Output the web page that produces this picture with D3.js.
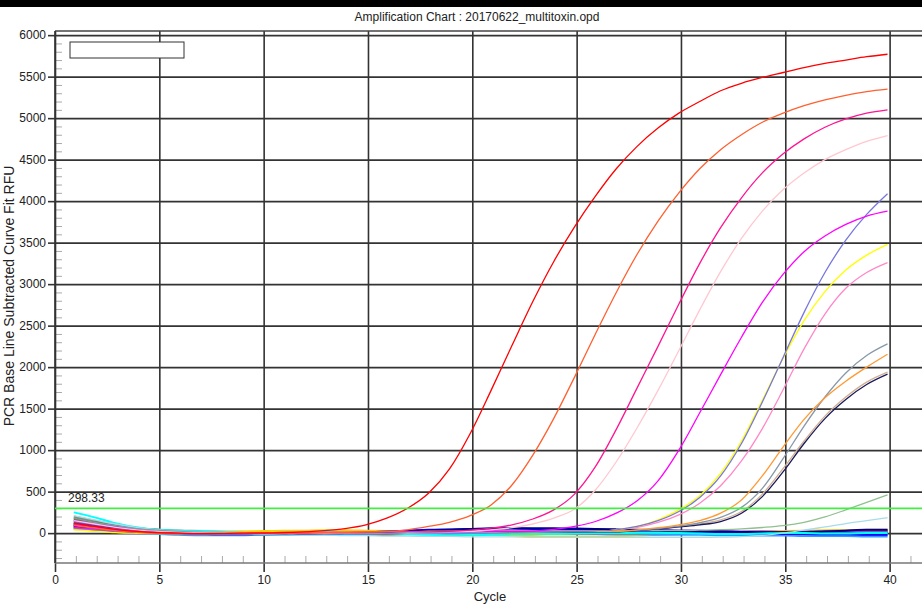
<!DOCTYPE html>
<html>
<head>
<meta charset="utf-8">
<script src="https://cdn.jsdelivr.net/npm/d3@7"></script>
<style>
  body { margin: 0; background: #fff; }
  text { font-family: "Liberation Sans", Arial, sans-serif; fill: #222; }
</style>
</head>
<body>
<div id="plot"></div>
<script>
// cycles 1..40, tick values
const cycles = d3.range(1, 41);
const xTicks = [0, 5, 10, 15, 20, 25, 30, 35, 40];
const yTicks = [0, 500, 1000, 1500, 2000, 2500, 3000, 3500, 4000, 4500, 5000, 5500, 6000];
const threshold = 298.33;

// amplifying wells
const red      = [120,80,45,20,5,0,-5,-5,0,0,5,15,30,55,100,180,300,480,770,1200,1720,2260,2790,3270,3690,4060,4390,4660,4880,5060,5200,5330,5420,5490,5550,5610,5660,5700,5740,5770];
const orangeRed= [90,60,30,10,0,-5,-5,-5,0,0,0,5,5,10,15,20,40,80,130,210,340,580,940,1380,1880,2400,2900,3360,3760,4100,4390,4620,4800,4950,5060,5150,5220,5275,5320,5350];
const deepPink = [110,75,45,25,10,0,-5,-5,-5,0,0,0,5,5,10,10,15,15,20,35,60,100,170,280,470,800,1250,1750,2250,2760,3250,3680,4040,4340,4570,4750,4890,4990,5060,5100];
const lightPink= [150,110,70,40,20,10,0,-5,-5,-5,0,0,0,5,5,10,10,15,15,20,40,65,110,180,290,520,860,1270,1720,2200,2690,3150,3550,3880,4140,4340,4500,4620,4720,4790];
const magenta  = [70,50,30,15,5,0,0,-5,-5,0,0,5,5,10,10,10,15,15,15,20,20,20,25,45,80,140,240,390,630,1000,1450,1910,2360,2780,3120,3390,3580,3720,3820,3880];
const slateBlue= [60,40,20,10,0,-5,-5,0,0,5,5,5,10,10,10,10,15,15,15,15,20,20,20,20,20,25,40,80,150,260,430,690,1080,1580,2120,2660,3140,3530,3840,4090];
const yellow   = [40,25,10,0,-5,-5,0,0,5,5,10,10,10,15,15,15,15,20,20,20,20,20,20,20,20,20,40,80,160,280,450,720,1110,1600,2110,2560,2910,3170,3350,3480];
const hotPink  = [100,70,45,25,10,0,-5,-5,0,0,0,5,5,5,10,10,10,15,15,15,15,20,20,20,20,20,40,70,130,220,360,570,870,1260,1730,2220,2640,2950,3140,3260];
const orange   = [50,35,20,10,0,-5,-5,-5,0,0,0,5,5,5,10,10,10,10,15,15,15,15,15,20,20,20,20,40,65,100,150,240,400,690,1040,1370,1630,1830,2000,2155];
const grayBlue = [180,130,90,55,35,20,10,5,0,0,0,0,5,5,5,10,10,10,10,15,15,15,15,15,20,20,20,35,55,85,125,190,310,540,900,1290,1640,1930,2140,2280];
const tan      = [60,40,20,5,0,-5,-5,-5,-5,-5,0,0,0,0,5,5,5,5,10,10,10,10,10,10,15,15,15,30,50,80,110,160,260,470,780,1110,1410,1640,1820,1940];
const navy     = [90,60,35,15,5,0,-5,-10,-10,-5,-5,0,0,5,5,5,10,10,10,10,10,10,15,15,15,15,15,30,50,75,100,140,240,440,740,1080,1380,1610,1790,1915];
const seaGreen = [100,70,45,25,10,0,-5,-5,0,0,5,5,10,10,10,15,15,20,20,20,20,25,25,25,25,25,30,30,30,30,35,42,52,68,90,130,195,280,370,460];
const paleBlue = [210,160,110,70,40,20,5,-5,-10,-15,-20,-25,-25,-30,-30,-35,-35,-40,-40,-45,-45,-45,-50,-50,-50,-50,-50,-50,-50,-50,-50,-48,-42,-28,0,35,75,115,150,185];

// flat (negative) wells
const n1  = [250,190,120,70,40,30,20,10,5,0,0,5,10,10,5,0,-10,-20,-25,-25,-20,-15,-10,-10,-5,0,0,5,5,0,-5,-10,-10,-5,0,0,-5,-5,0,0];
const n3  = [200,150,100,60,40,30,20,15,10,10,10,10,5,5,0,0,0,5,5,10,10,10,5,5,0,0,0,0,-5,-5,-5,-5,0,0,5,5,10,10,15,15];
const n4  = [180,130,90,60,40,20,10,5,0,0,0,10,15,20,20,20,15,15,10,10,10,10,15,15,20,20,20,15,15,10,10,10,10,10,10,15,15,15,20,20];
const n5  = [160,120,80,50,30,15,5,0,-5,-10,-10,-15,-15,-20,-20,-20,-15,-15,-10,-10,-5,-5,0,0,5,5,5,10,10,10,15,15,15,20,20,25,25,30,30,30];
const n6  = [150,110,80,50,30,15,5,0,0,0,5,5,10,10,15,15,20,20,20,25,25,25,30,30,30,35,35,35,30,30,30,25,20,20,15,15,10,10,10,10];
const n7  = [100,70,40,20,5,-5,-10,-15,-15,-10,-10,-5,0,5,10,20,30,40,45,50,55,55,50,45,40,35,30,25,20,15,10,5,0,-5,-10,-10,-15,-15,-20,-20];
const n8  = [80,60,40,20,10,0,-5,-10,-10,-10,-10,-10,-5,0,5,10,20,30,40,50,55,60,60,60,55,50,45,40,35,30,25,20,15,10,10,10,20,30,40,40];
const n9  = [60,40,20,0,-10,-20,-25,-25,-25,-20,-20,-15,-10,-10,-5,-5,0,0,0,0,0,0,-5,-5,-10,-10,-15,-15,-20,-20,-20,-25,-25,-30,-30,-35,-35,-35,-40,-40];
const n10 = [50,30,10,0,-5,-5,0,10,20,25,30,30,35,35,30,25,20,10,0,-10,-20,-30,-35,-40,-40,-40,-35,-30,-20,-10,0,10,15,20,25,30,35,35,40,40];
const n11 = [130,100,70,45,25,10,0,-5,-10,-10,-5,0,5,10,10,10,5,5,10,15,20,20,15,15,10,10,5,5,10,15,15,10,5,0,0,-5,-5,-5,-10,-10];
const n12 = [110,80,55,35,20,10,5,0,0,0,5,5,5,10,10,15,15,15,20,20,20,25,25,25,25,20,20,20,15,15,15,10,10,10,15,20,25,30,35,35];
const n13 = [70,45,25,10,0,-10,-15,-20,-20,-20,-15,-10,-10,-5,-5,0,0,5,5,5,5,5,0,0,0,0,-5,-5,-5,-10,-10,-15,-15,-20,-20,-25,-25,-30,-30,-30];
const n14 = [140,110,80,60,45,35,30,25,20,15,10,10,5,5,0,0,-5,-5,-5,-10,-10,-10,-10,-5,-5,-5,0,0,0,5,5,5,5,0,0,-5,-5,-10,-10,-10];
const n15 = [90,60,35,20,10,5,0,0,5,10,10,15,15,20,20,15,15,10,10,5,5,5,5,10,10,15,15,20,20,15,10,5,5,0,0,0,5,5,5,5];
const n16 = [120,90,60,35,20,10,0,-5,-5,-5,0,0,5,5,10,10,15,15,10,10,5,5,10,15,20,25,30,30,30,25,25,20,15,10,5,0,0,0,0,0];

const flatSeries = [
  {v: n14, c: "#c8c8c8"}, {v: n3, c: "#909090"}, {v: n4, c: "#339933"}, {v: n15, c: "#8fa060"},
  {v: n5, c: "#996633"}, {v: n10, c: "#ffcc00"}, {v: n12, c: "#607080"}, {v: n11, c: "#00cccc"},
  {v: n6, c: "#9933ff"}, {v: n16, c: "#6633cc"}, {v: n13, c: "#6495ed"}, {v: n9, c: "#3399ff"},
  {v: n7, c: "#0000ff"}, {v: n8, c: "#000080"}, {v: n1, c: "#00ffff"}
];
const ampSeries = [
  {v: paleBlue, c: "#a8dce8"}, {v: seaGreen, c: "#90c090"},
  {v: tan, c: "#d0b090"}, {v: navy, c: "#1a1a5e"}, {v: grayBlue, c: "#8898a8"}, {v: orange, c: "#ff9933"},
  {v: hotPink, c: "#ff88c8"}, {v: yellow, c: "#ffff00"}, {v: slateBlue, c: "#7777dd"},
  {v: magenta, c: "#ff00ff"}, {v: lightPink, c: "#ffc8d0"}, {v: deepPink, c: "#ff1493"},
  {v: orangeRed, c: "#ff6030"}, {v: red, c: "#ff0000"}
];

const W = 922, H = 605;
const svg = d3.select("#plot").append("svg").attr("width", W).attr("height", H);

const x = d3.scaleLinear().domain([0, 41.6]).range([55, 923]);
const y = d3.scaleLinear().domain([-360, 6050]).range([563, 31]);
const plotTop = y(6050), plotBottom = y(-360), plotLeft = x(0), plotRight = W;

// header bar and title
svg.append("rect").attr("x", 0).attr("y", 0).attr("width", W).attr("height", 7).attr("fill", "#000");
svg.append("text").attr("x", 477).attr("y", 21).attr("text-anchor", "middle")
   .attr("font-size", "12px").text("Amplification Chart : 20170622_multitoxin.opd");

// minor ticks
svg.append("g").attr("transform", `translate(${plotLeft},0)`)
   .call(d3.axisRight(y).tickValues(d3.range(-300, 6001, 100).filter(d => d % 500 !== 0)).tickSize(7).tickFormat(""))
   .call(g => g.select(".domain").remove())
   .selectAll("line").attr("stroke", "#aaa");
svg.append("g").attr("transform", `translate(0,${plotBottom})`)
   .call(d3.axisTop(x).tickValues(d3.range(1, 42).filter(d => d % 5 !== 0)).tickSize(7).tickFormat(""))
   .call(g => g.select(".domain").remove())
   .selectAll("line").attr("stroke", "#aaa");

// grid + major axes
svg.append("g").attr("transform", `translate(${plotLeft},0)`)
   .call(d3.axisLeft(y).tickValues(yTicks).tickSize(7).tickPadding(2).tickFormat(d3.format("d")))
   .call(g => g.select(".domain").remove())
   .call(g => g.selectAll("text").attr("font-size", "12px").attr("fill", "#222")
      .style("font-family", "'Liberation Sans', Arial, sans-serif"))
   .call(g => g.selectAll(".tick line").clone().attr("x1", 0).attr("x2", plotRight - plotLeft))
   .selectAll("line").attr("stroke", "#333").attr("stroke-width", 1.6);

svg.append("g").attr("transform", `translate(0,${plotBottom})`)
   .call(d3.axisBottom(x).tickValues(xTicks).tickSize(9).tickPadding(3))
   .call(g => g.select(".domain").remove())
   .call(g => g.selectAll("text").attr("font-size", "12px").attr("fill", "#222")
      .style("font-family", "'Liberation Sans', Arial, sans-serif"))
   .call(g => g.selectAll(".tick line").clone().attr("y1", 0).attr("y2", plotTop - plotBottom))
   .selectAll("line").attr("stroke", "#333").attr("stroke-width", 1.6);

// plot border
svg.append("line").attr("x1", plotLeft).attr("x2", plotRight).attr("y1", plotTop).attr("y2", plotTop)
   .attr("stroke", "#444").attr("stroke-width", 1.4);
svg.append("line").attr("x1", plotLeft).attr("x2", plotRight).attr("y1", plotBottom).attr("y2", plotBottom)
   .attr("stroke", "#777").attr("stroke-width", 1.4);
svg.append("line").attr("x1", plotLeft).attr("x2", plotLeft).attr("y1", plotTop).attr("y2", plotBottom)
   .attr("stroke", "#333").attr("stroke-width", 1.6);

// curves
const line = d3.line().x((d, i) => x(cycles[i] - 0.1)).y(d => y(d)).curve(d3.curveMonotoneX);
svg.append("g").selectAll("path.flat").data(flatSeries).enter().append("path")
   .attr("d", d => line(d.v)).attr("fill", "none").attr("stroke", d => d.c).attr("stroke-width", 2);
svg.append("g").selectAll("path.amp").data(ampSeries).enter().append("path")
   .attr("d", d => line(d.v)).attr("fill", "none").attr("stroke", d => d.c).attr("stroke-width", 1.3);

// threshold
svg.append("line").attr("x1", plotLeft).attr("x2", plotRight).attr("y1", y(threshold)).attr("y2", y(threshold))
   .attr("stroke", "#40f040").attr("stroke-width", 1.6);
svg.append("text").attr("x", 68).attr("y", y(threshold) - 6).attr("font-size", "12px").text("298.33");

// empty legend box
svg.append("rect").attr("x", 70).attr("y", 42).attr("width", 114).attr("height", 16)
   .attr("fill", "#fff").attr("stroke", "#333").attr("stroke-width", 1);

// axis titles
svg.append("text").attr("transform", "translate(14,296) rotate(-90)").attr("text-anchor", "middle")
   .attr("font-size", "14px").text("PCR Base Line Subtracted Curve Fit RFU");
svg.append("text").attr("x", 490).attr("y", 601).attr("text-anchor", "middle")
   .attr("font-size", "13px").text("Cycle");
</script>
</body>
</html>
